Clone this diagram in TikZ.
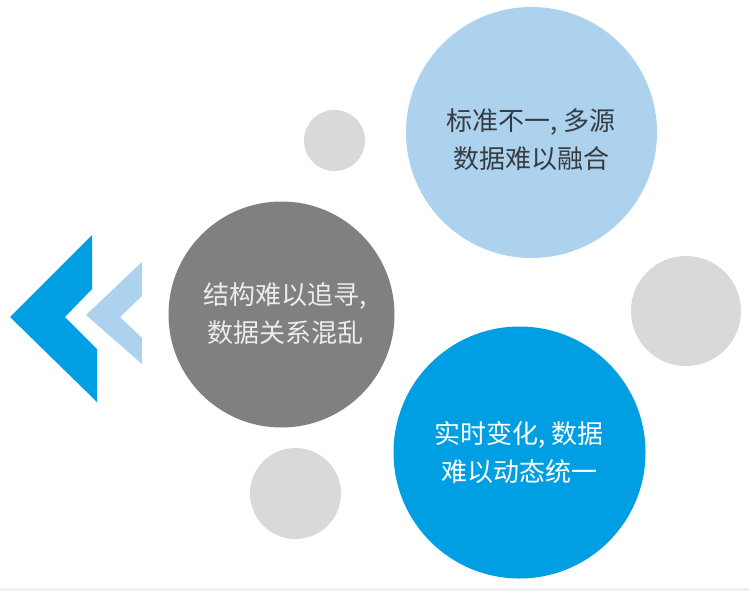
\documentclass[tikz,border=0pt]{standalone}
\usepackage{fontspec}
\newfontfamily\cjk{Noto Sans CJK SC}
\definecolor{lblue}{RGB}{172,210,238}
\definecolor{mblue}{RGB}{0,158,226}
\definecolor{dgrey}{RGB}{128,128,128}
\definecolor{lgrey}{RGB}{217,217,217}
\definecolor{darktext}{RGB}{55,60,66}
\definecolor{paletext}{RGB}{236,236,236}
\begin{document}
\begin{tikzpicture}[x=1pt,y=-1pt,
  bubble/.style={circle,inner sep=0pt,minimum size=#1},
  caption/.style={align=center,inner sep=0pt,font=\cjk\fontsize{26}{38}\selectfont}]
\useasboundingbox (0,0) rectangle (749,591);
\fill[white] (0,0) rectangle (749,591);
\fill[gray!12] (0,588) rectangle (749,591);
% chevrons
\fill[mblue] (10,317) -- (92,235) -- (92,289) -- (65,317) -- (97,349) -- (97,402) -- cycle;
\fill[lblue] (86,315) -- (142,262) -- (142,296) -- (120,317) -- (142,338) -- (142,364) -- cycle;
% circles
\node[bubble=61pt,fill=lgrey] (s1) at (334.5,140.5) {};
\node[bubble=91pt,fill=lgrey] (s2) at (295.5,493.5) {};
\node[bubble=110pt,fill=lgrey] (s3) at (686,311) {};
\node[bubble=251pt,fill=lblue] (c1) at (531.5,132.5) {};
\node[bubble=226pt,fill=dgrey] (c2) at (281.5,314.5) {};
\node[bubble=252pt,fill=mblue] (c3) at (519.5,452.5) {};
% texts
\node[caption,text=darktext] (t1) at (531,140) {标准不一, 多源\\数据难以融合};
\node[caption,text=paletext] (t2) at (285,314) {结构难以追寻,\\数据关系混乱};
\node[caption,text=white] (t3) at (519,453) {实时变化, 数据\\难以动态统一};
\end{tikzpicture}
\end{document}
